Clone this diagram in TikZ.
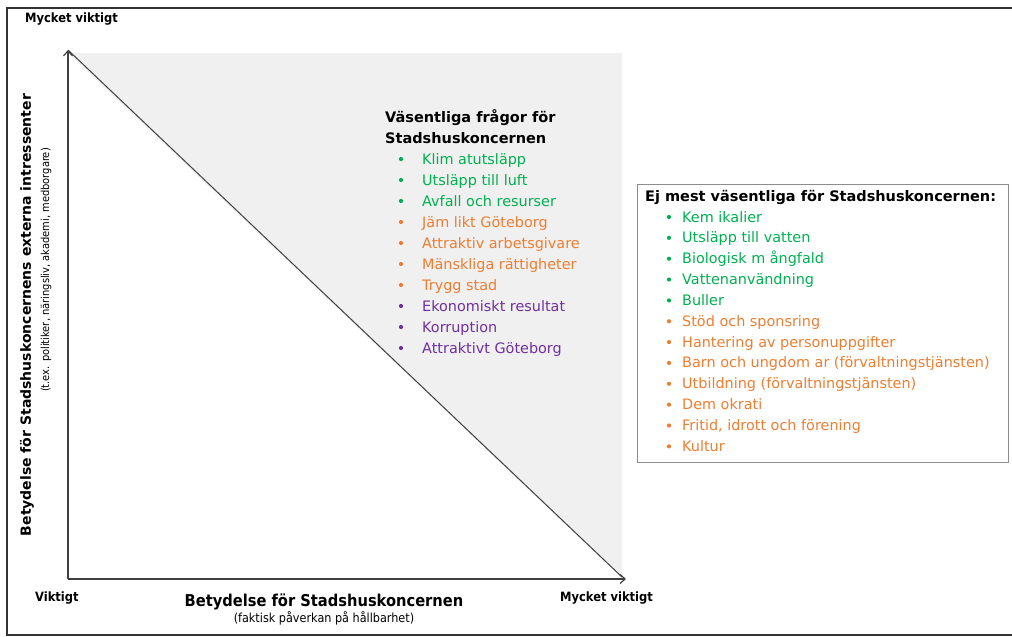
\documentclass[tikz,border=0pt]{standalone}
\usepackage{fontspec}
\setmainfont{DejaVu Sans}
\newfontfamily\condfont{DejaVu Sans Condensed}
\usetikzlibrary{arrows.meta}
\definecolor{itgreen}{HTML}{00B050}
\definecolor{itorange}{HTML}{ED7D31}
\definecolor{itpurple}{HTML}{7030A0}
\definecolor{bgshade}{HTML}{F0F0F0}
\definecolor{axisgray}{HTML}{404040}
\tikzset{
  item/.style={anchor=base west, inner sep=0pt, font=\fontsize{14.4}{16}\selectfont},
  head/.style={anchor=base west, inner sep=0pt, font=\fontsize{14.5}{16}\selectfont\bfseries},
  dot/.style={circle, fill=#1, draw=none, inner sep=0pt, minimum size=4.2pt},
  axisline/.style={draw=axisgray, line width=1.2pt, -{Straight Barb[length=5pt,width=9pt]}},
  small/.style={inner sep=0pt, font=\condfont\fontsize{12.8}{14}\selectfont\bfseries},
}
\begin{document}
\begin{tikzpicture}[x=1pt,y=-1pt]
\useasboundingbox (0,0) rectangle (1012,637);
% outer frame
\draw[line width=1.6pt, draw=black!80] (1012,8) -- (7,8) -- (7,635) -- (1012,635);
% shaded triangle
\fill[bgshade] (68,53) -- (622,53) -- (622,578) -- cycle;
\coordinate (O) at (68,579);
\coordinate (Ytop) at (68,50);
\coordinate (Xend) at (626,579);
\coordinate (Dend) at (622,577);
\draw[axisline] (O) -- (Ytop);
\draw[axisline] (O) -- (Xend);
\draw[draw=axisgray, line width=1pt] (Ytop) -- (Dend);
% axis end labels
\node[small, anchor=base west] (tl) at (25,23) {Mycket viktigt};
\node[small, anchor=base west] (bl) at (35,601) {Viktigt};
\node[small, anchor=base west] (br) at (560,601) {Mycket viktigt};
% x axis title
\node[inner sep=0pt, anchor=base, font=\condfont\fontsize{16.3}{18}\selectfont\bfseries] (xt) at (324,606) {Betydelse för Stadshuskoncernen};
\node[inner sep=0pt, anchor=base, font=\condfont\fontsize{12.5}{14}\selectfont] (xs) at (324,622) {(faktisk påverkan på hållbarhet)};
% y axis title
\node[inner sep=0pt, rotate=90, font=\fontsize{14}{16}\selectfont\bfseries] (yt) at (27,315) {Betydelse för Stadshuskoncernens externa intressenter};
\node[inner sep=0pt, rotate=90, font=\condfont\fontsize{11}{12}\selectfont] (ys) at (46,270) {(t.ex. politiker, näringsliv, akademi, medborgare)};
% left list
\node[head] (lh1) at (385,122) {Väsentliga frågor för};
\node[head] (lh2) at (385,143) {Stadshuskoncernen};
\foreach \t/\c [count=\i] in {Klim atutsläpp/itgreen, Utsläpp till luft/itgreen, Avfall  och resurser/itgreen, Jäm likt Göteborg/itorange, Attraktiv arbetsgivare/itorange, Mänskliga rättigheter/itorange, Trygg stad/itorange, Ekonomiskt resultat/itpurple, Korruption/itpurple, Attraktivt Göteborg/itpurple}{
  \node[dot=\c] (lb\i) at (401,{159+21*(\i-1)}) {};
  \node[item, text=\c] (li\i) at (422,{164+21*(\i-1)}) {\t};
}
% right box
\draw[draw=black!45, line width=0.9pt] (637,184) rectangle (1008,462);
\node[head] (rh) at (645,201) {Ej mest väsentliga för Stadshuskoncernen:};
\foreach \t/\c [count=\i] in {Kem ikalier/itgreen, Utsläpp till vatten/itgreen, Biologisk m ångfald/itgreen, Vattenanvändning/itgreen, Buller/itgreen, Stöd och sponsring/itorange, Hantering av personuppgifter/itorange, Barn och ungdom ar (förvaltningstjänsten)/itorange, Utbildning (förvaltningstjänsten)/itorange, Dem okrati/itorange, {Fritid, idrott och förening}/itorange, Kultur/itorange}{
  \node[dot=\c] (rb\i) at (669,{217+20.85*(\i-1)}) {};
  \node[item, text=\c] (ri\i) at (682,{222+20.85*(\i-1)}) {\t};
}
\end{tikzpicture}
\end{document}
